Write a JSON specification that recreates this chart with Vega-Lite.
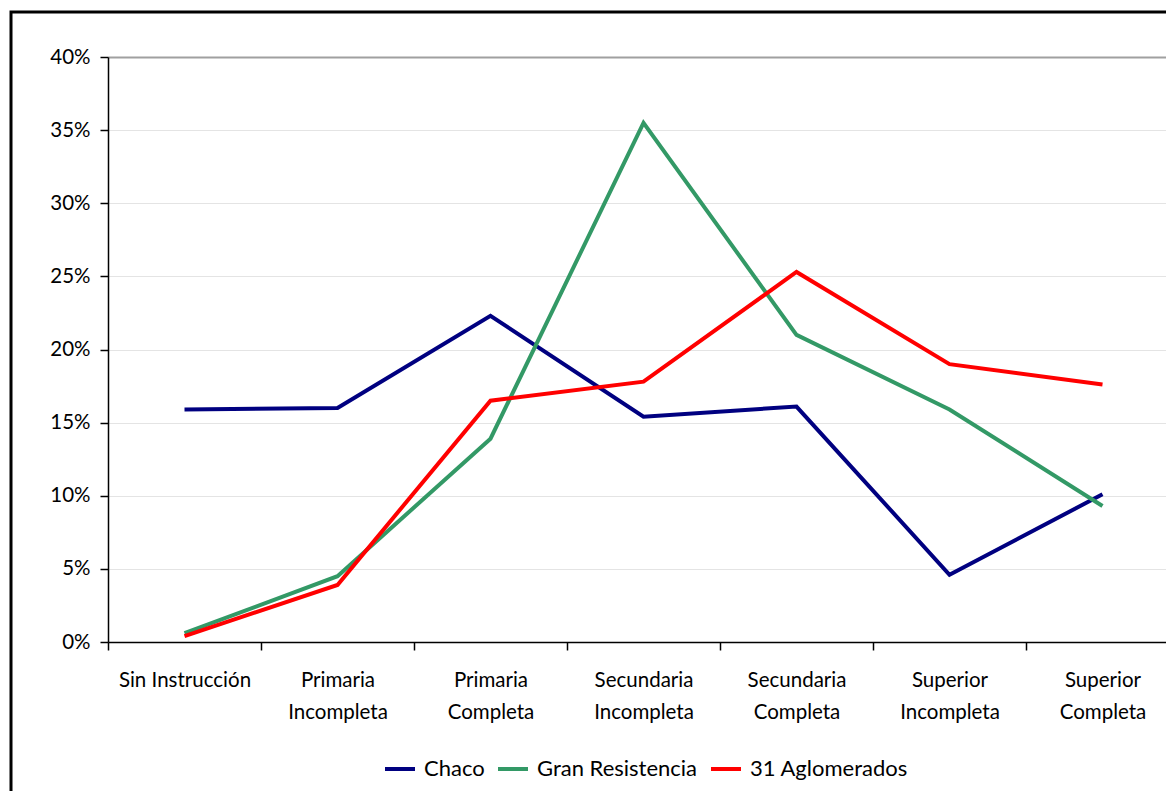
{
  "$schema": "https://vega.github.io/schema/vega-lite/v6.json",
  "width": 1160,
  "height": 790,
  "autosize": {"type": "none"},
  "padding": {"left": 11, "top": 12, "right": -5, "bottom": -11},
  "background": "white",
  "config": {
    "view": {"stroke": "#000000", "strokeWidth": 3},
    "font": "Lato",
    "axis": {"labelFont": "Lato", "labelFontSize": 20.5, "labelColor": "#000000"},
    "legend": {"labelFont": "Lato", "labelFontSize": 22, "labelColor": "#000000", "labelLimit": 400}
  },
  "data": {
    "values": [
      {"nivel": "Sin Instrucción", "serie": "Chaco", "valor": 0.159},
      {"nivel": "Primaria Incompleta", "serie": "Chaco", "valor": 0.160},
      {"nivel": "Primaria Completa", "serie": "Chaco", "valor": 0.223},
      {"nivel": "Secundaria Incompleta", "serie": "Chaco", "valor": 0.154},
      {"nivel": "Secundaria Completa", "serie": "Chaco", "valor": 0.161},
      {"nivel": "Superior Incompleta", "serie": "Chaco", "valor": 0.046},
      {"nivel": "Superior Completa", "serie": "Chaco", "valor": 0.101},
      {"nivel": "Sin Instrucción", "serie": "Gran Resistencia", "valor": 0.006},
      {"nivel": "Primaria Incompleta", "serie": "Gran Resistencia", "valor": 0.045},
      {"nivel": "Primaria Completa", "serie": "Gran Resistencia", "valor": 0.139},
      {"nivel": "Secundaria Incompleta", "serie": "Gran Resistencia", "valor": 0.355},
      {"nivel": "Secundaria Completa", "serie": "Gran Resistencia", "valor": 0.210},
      {"nivel": "Superior Incompleta", "serie": "Gran Resistencia", "valor": 0.159},
      {"nivel": "Superior Completa", "serie": "Gran Resistencia", "valor": 0.093},
      {"nivel": "Sin Instrucción", "serie": "31 Aglomerados", "valor": 0.004},
      {"nivel": "Primaria Incompleta", "serie": "31 Aglomerados", "valor": 0.039},
      {"nivel": "Primaria Completa", "serie": "31 Aglomerados", "valor": 0.165},
      {"nivel": "Secundaria Incompleta", "serie": "31 Aglomerados", "valor": 0.178},
      {"nivel": "Secundaria Completa", "serie": "31 Aglomerados", "valor": 0.253},
      {"nivel": "Superior Incompleta", "serie": "31 Aglomerados", "valor": 0.190},
      {"nivel": "Superior Completa", "serie": "31 Aglomerados", "valor": 0.176}
    ]
  },
  "mark": {"type": "line", "strokeWidth": 4, "clip": true},
  "encoding": {
    "x": {
      "field": "nivel",
      "type": "nominal",
      "sort": ["Sin Instrucción", "Primaria Incompleta", "Primaria Completa", "Secundaria Incompleta", "Secundaria Completa", "Superior Incompleta", "Superior Completa"],
      "scale": {"type": "band", "range": [97, 1168], "paddingInner": 0, "paddingOuter": 0},
      "axis": {
        "title": null,
        "offset": -160,
        "labelAngle": 0,
        "labelExpr": "!datum.value ? '' : (datum.value == 'Sin Instrucción' ? 'Sin Instrucción' : split(datum.value, ' '))",
        "labelLineHeight": 32,
        "labelPadding": 30,
        "labelBaseline": "middle",
        "tickBand": "extent",
        "tickSize": 8,
        "tickColor": "#000000",
        "tickWidth": 1.5,
        "domainColor": "#000000",
        "domainWidth": 1.5,
        "grid": false
      }
    },
    "y": {
      "field": "valor",
      "type": "quantitative",
      "scale": {"domain": [0, 0.4], "nice": false, "range": [630, 45]},
      "axis": {
        "title": null,
        "offset": -97,
        "format": ".0%",
        "values": [0, 0.05, 0.1, 0.15, 0.2, 0.25, 0.3, 0.35, 0.4],
        "tickSize": 8,
        "tickColor": "#000000",
        "tickWidth": 1.5,
        "labelPadding": 10,
        "domainColor": "#000000",
        "domainWidth": 1.5,
        "grid": true,
        "gridColor": {"condition": {"test": "datum.value == 0.4", "value": "#a0a0a0"}, "value": "#e4e4e4"},
        "gridWidth": {"condition": {"test": "datum.value == 0.4", "value": 2}, "value": 1}
      }
    },
    "color": {
      "field": "serie",
      "type": "nominal",
      "sort": ["Chaco", "Gran Resistencia", "31 Aglomerados"],
      "scale": {"domain": ["Chaco", "Gran Resistencia", "31 Aglomerados"], "range": ["#000080", "#339966", "#ff0000"]},
      "legend": {
        "title": null,
        "orient": "none",
        "legendX": 372,
        "legendY": 740,
        "direction": "horizontal",
        "symbolType": "stroke",
        "symbolSize": 900,
        "symbolStrokeWidth": 4,
        "labelOffset": 7,
        "labelLimit": 400,
        "columnPadding": 5,
        "padding": 0
      }
    }
  }
}
